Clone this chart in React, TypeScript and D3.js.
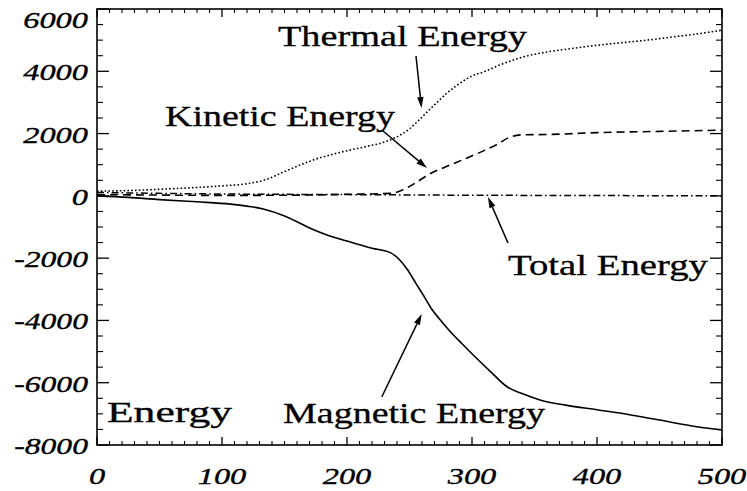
import React from 'react';
import * as d3 from 'd3';

const WIDTH = 747;
const HEIGHT = 491;

const xDomain = [0, 500];
const yDomain = [-8000, 6000];
const xTicks = [0, 100, 200, 300, 400, 500];
const yTicks = [6000, 4000, 2000, 0, -2000, -4000, -6000, -8000];
const yTickLabels = ['6000', '4000', '2000', '0', '-2000', '-4000', '-6000', '-8000'];

const thermalT = [0, 25, 50, 75, 100, 120, 135, 150, 165, 175, 190, 200, 215, 230, 242, 250, 256, 264, 272, 280, 288, 300, 310, 322, 340, 360, 380, 400, 420, 440, 460, 480, 500];
const thermalE = [150, 170, 210, 260, 320, 390, 520, 780, 1030, 1180, 1350, 1450, 1580, 1730, 1940, 2150, 2370, 2690, 3000, 3300, 3550, 3850, 3990, 4200, 4450, 4620, 4730, 4835, 4920, 5000, 5100, 5200, 5320];

const kineticT = [0, 50, 100, 150, 200, 235, 245, 255, 265, 280, 295, 310, 320, 330, 340, 360, 400, 450, 500];
const kineticE = [40, 25, 15, 20, 50, 80, 200, 420, 680, 950, 1200, 1460, 1650, 1880, 1960, 1970, 2030, 2070, 2110];

const totalT = [0, 50, 100, 200, 300, 400, 500];
const totalE = [110, 80, 60, 40, 20, 10, 0];

const magneticT = [0, 25, 50, 80, 107, 120, 133, 149, 160, 171, 185, 200, 220, 235, 242, 248, 255, 262, 268, 275, 282, 292, 302, 315, 328, 340, 355, 375, 400, 425, 450, 475, 500];
const magneticE = [0, -50, -120, -190, -265, -330, -420, -630, -830, -1050, -1270, -1450, -1680, -1830, -2050, -2350, -2800, -3250, -3650, -4000, -4330, -4750, -5150, -5650, -6130, -6350, -6560, -6720, -6870, -7020, -7200, -7380, -7520];

// annotation labels: text, anchor (data coords), rendered width
const labelTexts = ['Thermal Energy', 'Kinetic Energy', 'Total Energy', 'Magnetic Energy', 'Energy'];
const labelT = [144.8, 54.4, 328.8, 148.8, 8];
const labelE = [4800, 2230, -2541, -7293, -7261];
const labelWidths = [249, 230, 200, 262, 125];

// arrows: from (t0,e0) to (t1,e1)
const arrowT0 = [255.2, 228.8, 328.8, 227.8];
const arrowE0 = [4491, 2083, -1514, -6459];
const arrowT1 = [259.6, 264, 312.8, 259.8];
const arrowE1 = [2821, 894, -37, -3794];

const M = { left: 97, right: 722, top: 9, bottom: 445 };

export default function App() {
  const x = d3.scaleLinear().domain(xDomain).range([M.left, M.right]);
  const y = d3.scaleLinear().domain(yDomain).range([M.bottom, M.top]);

  const line = (ts: number[], es: number[]) =>
    d3.line<number>()
      .x((_, i) => x(ts[i]))
      .y((d) => y(d))
      .curve(d3.curveMonotoneX)(es) || '';

  const xMinor = d3.range(0, 501, 10).filter((v) => v % 100 !== 0);
  const yMinor = d3.range(-8000, 6001, 500).filter((v) => v % 2000 !== 0);

  const series = [
    { d: line(thermalT, thermalE), dash: '1.6 2.2', w: 1.6 },
    { d: line(kineticT, kineticE), dash: '8 5', w: 1.6 },
    { d: line(totalT, totalE), dash: '7 3 1.6 3', w: 1.5 },
    { d: line(magneticT, magneticE), dash: 'none', w: 1.6 },
  ];

  const font = '"Liberation Serif", Tinos, "Nimbus Roman", FreeSerif, Times, "Times New Roman", "DejaVu Serif", serif';
  const digitW = 16.2;
  const tickW = (s: string) => s.replace('-', '').length * digitW + (s.startsWith('-') ? 9 : 0);

  return (
    <svg width={WIDTH} height={HEIGHT} style={{ position: 'absolute', left: 0, top: 0, background: '#fff' }}>
      <rect x={0} y={0} width={WIDTH} height={HEIGHT} fill="#fff" />
      {/* frame */}
      <rect x={M.left} y={M.top} width={M.right - M.left} height={M.bottom - M.top} fill="none" stroke="#000" strokeWidth={1.6} />
      {/* x ticks bottom/top */}
      {xTicks.map((t) => (
        <g key={'xt' + t}>
          <line x1={x(t)} x2={x(t)} y1={M.bottom} y2={M.bottom - 8} stroke="#000" strokeWidth={1.3} />
          <line x1={x(t)} x2={x(t)} y1={M.top} y2={M.top + 8} stroke="#000" strokeWidth={1.3} />
        </g>
      ))}
      {xMinor.map((t) => (
        <g key={'xm' + t}>
          <line x1={x(t)} x2={x(t)} y1={M.bottom} y2={M.bottom - 4} stroke="#000" strokeWidth={1.1} />
          <line x1={x(t)} x2={x(t)} y1={M.top} y2={M.top + 4} stroke="#000" strokeWidth={1.1} />
        </g>
      ))}
      {yTicks.map((t) => (
        <g key={'yt' + t}>
          <line x1={M.left} x2={M.left + 12} y1={y(t)} y2={y(t)} stroke="#000" strokeWidth={1.3} />
          <line x1={M.right} x2={M.right - 12} y1={y(t)} y2={y(t)} stroke="#000" strokeWidth={1.3} />
        </g>
      ))}
      {yMinor.map((t) => (
        <g key={'ym' + t}>
          <line x1={M.left} x2={M.left + 6} y1={y(t)} y2={y(t)} stroke="#000" strokeWidth={1.1} />
          <line x1={M.right} x2={M.right - 6} y1={y(t)} y2={y(t)} stroke="#000" strokeWidth={1.1} />
        </g>
      ))}
      {/* tick labels */}
      {xTicks.map((t) => {
        const s = String(t);
        const w = tickW(s);
        return (
          <text key={'xl' + t} x={x(t) - w / 2} y={M.bottom + 39} textLength={w} lengthAdjust="spacingAndGlyphs"
            fontFamily={font} fontStyle="italic" fontSize={23.5} fill="#000" stroke="#000" strokeWidth={0.35}>{s}</text>
        );
      })}
      {yTicks.map((t, i) => {
        const s = yTickLabels[i];
        const w = tickW(s);
        const by = Math.max(y(t) + 9, M.top + 19);
        return (
          <text key={'yl' + t} x={M.left - 9 - w} y={by} textLength={w} lengthAdjust="spacingAndGlyphs"
            fontFamily={font} fontStyle="italic" fontSize={23.5} fill="#000" stroke="#000" strokeWidth={0.35}>{s}</text>
        );
      })}
      {/* series */}
      {series.map((s, i) => (
        <path key={'s' + i} d={s.d} fill="none" stroke="#000" strokeWidth={s.w} strokeDasharray={s.dash} />
      ))}
      {/* arrows */}
      {arrowT0.map((_, i) => {
        const x0 = x(arrowT0[i]), y0 = y(arrowE0[i]);
        const x1 = x(arrowT1[i]), y1 = y(arrowE1[i]);
        const a = Math.atan2(y1 - y0, x1 - x0);
        const L = 11, hw = 3.2;
        const bx = x1 - L * Math.cos(a), by = y1 - L * Math.sin(a);
        const p = `M${x1},${y1}L${bx + hw * Math.sin(a)},${by - hw * Math.cos(a)}L${bx - hw * Math.sin(a)},${by + hw * Math.cos(a)}Z`;
        return (
          <g key={'a' + i}>
            <line x1={x0} y1={y0} x2={bx} y2={by} stroke="#000" strokeWidth={1.5} />
            <path d={p} fill="#000" />
          </g>
        );
      })}
      {/* labels */}
      {labelTexts.map((txt, i) => (
        <text key={'l' + i} x={x(labelT[i])} y={y(labelE[i])} fontFamily={font} fontSize={28.5} fill="#000"
          stroke="#000" strokeWidth={0.3} textLength={labelWidths[i]} lengthAdjust="spacingAndGlyphs">{txt}</text>
      ))}
    </svg>
  );
}
